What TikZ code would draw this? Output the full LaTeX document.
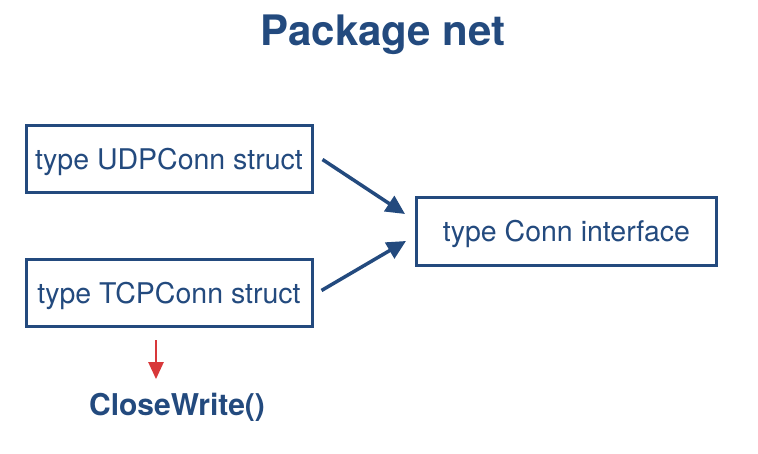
\documentclass[tikz,border=0pt]{standalone}
\usepackage{fontspec}
\setmainfont{TeX Gyre Heros}
\usetikzlibrary{arrows.meta}
\definecolor{netblue}{HTML}{234A7E}
\definecolor{netred}{HTML}{D8383A}
\begin{document}
\begin{tikzpicture}[x=1pt,y=-1pt]
	\tikzstyle{tbox} = [draw=netblue, line width=3pt, text=netblue, rectangle, minimum height=67pt, minimum width=286pt, text height=20pt, text depth=0pt, font=\fontsize{28.5}{32}\selectfont]
	\tikzstyle{impl} = [netblue, line width=3.5pt, -{Triangle[length=19pt,width=18pt]}]
	\useasboundingbox (0,0) rectangle (758,454);

	\node[text=netblue, font=\bfseries\fontsize{42}{46}\selectfont, anchor=base] (title) at (383,46) {Package net};
	\node[tbox] (udp) at (169,159.5) {type UDPConn struct};
	\node[tbox] (tcp) at (169,293.5) {type TCPConn struct};
	\node[tbox, minimum width=300pt, minimum height=68pt] (conn) at (566.5,232) {type Conn interface};
	\node[text=netblue, font=\bfseries\fontsize{30}{34}\selectfont, anchor=base] (cw) at (177,415) {CloseWrite()};

	\draw[impl] ([xshift=9pt]udp.east) -- ([xshift=-10pt,yshift=18pt]conn.west);
	\draw[impl] ([xshift=8pt,yshift=3pt]tcp.east) -- ([xshift=-9pt,yshift=-9pt]conn.west);
	\draw[netred, line width=2.5pt, -{Triangle[length=17pt,width=15pt]}] ([xshift=-13pt,yshift=-12pt]tcp.south) -- ([xshift=-21pt,yshift=10pt]cw.north);
\end{tikzpicture}
\end{document}
